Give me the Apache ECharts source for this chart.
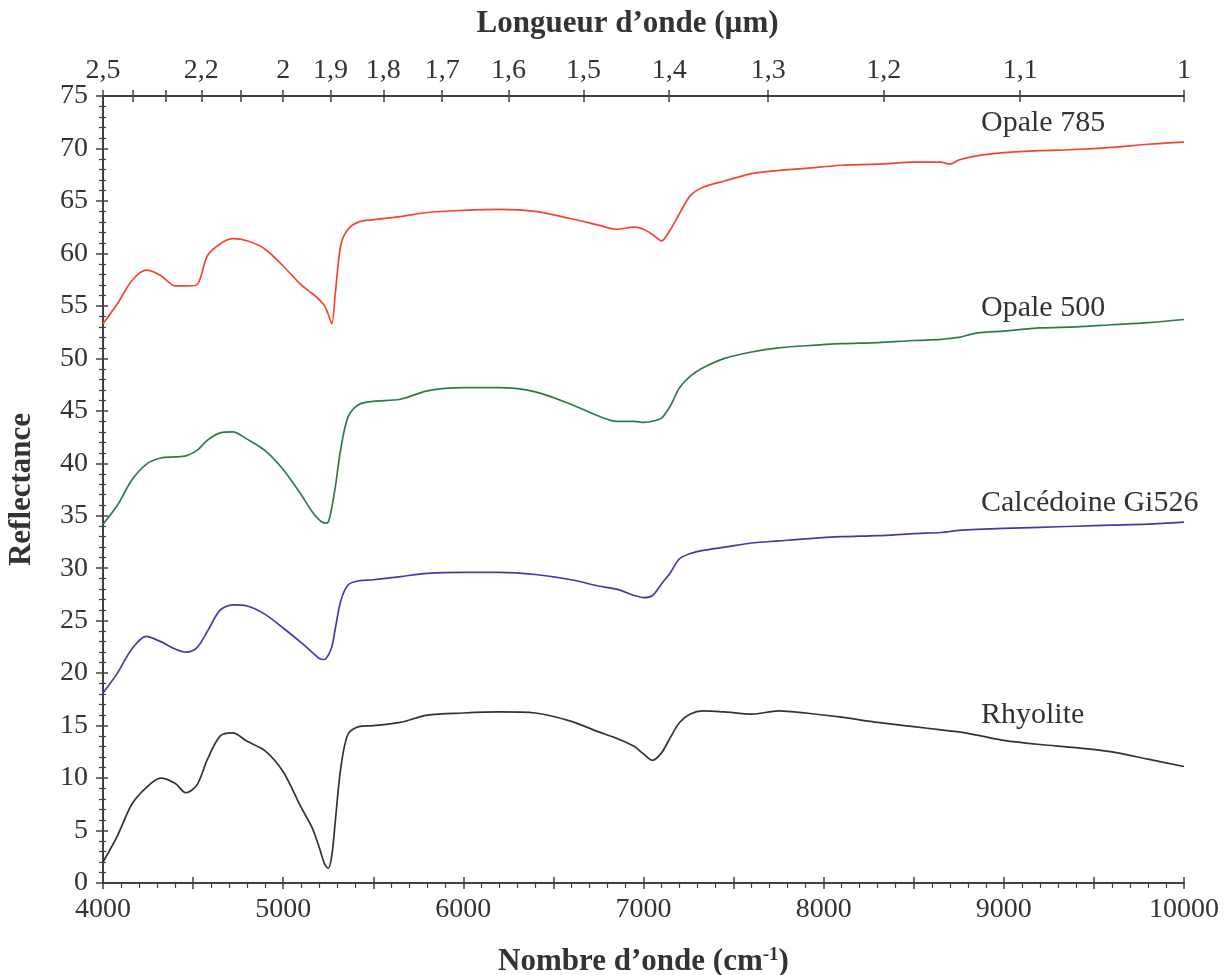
<!DOCTYPE html>
<html>
<head>
<meta charset="utf-8">
<title>Reflectance</title>
<script src="https://cdn.jsdelivr.net/npm/echarts@6.0.0/dist/echarts.min.js"></script>
<style>
  html, body { margin: 0; padding: 0; background: #fff; }
  #main { width: 1227px; height: 975px; }
</style>
</head>
<body>
<div id="main"></div>
<script>
// nombre d'onde (cm-1), grille commune aux 4 spectres
var wavenumbers = [4000, 4080, 4160, 4240, 4320, 4400, 4460, 4520, 4580, 4650, 4720, 4800, 4900, 5000, 5100, 5160, 5200, 5230, 5250, 5270, 5290, 5320, 5360, 5420, 5500, 5650, 5800, 6000, 6200, 6400, 6600, 6750, 6850, 6950, 7000, 7050, 7100, 7150, 7200, 7260, 7330, 7450, 7600, 7750, 7900, 8100, 8300, 8500, 8650, 8700, 8750, 8850, 9000, 9200, 9400, 9600, 9800, 10000];

var opale785 = [53.3, 55.2, 57.4, 58.4, 57.9, 56.9, 56.9, 57.0, 59.8, 60.9, 61.4, 61.2, 60.4, 58.8, 57.0, 56.2, 55.6, 55.0, 54.2, 53.3, 56.3, 60.8, 62.3, 63.0, 63.2, 63.5, 63.9, 64.1, 64.2, 64.0, 63.3, 62.7, 62.3, 62.5, 62.3, 61.8, 61.2, 62.3, 63.8, 65.5, 66.3, 66.9, 67.6, 67.9, 68.1, 68.4, 68.5, 68.7, 68.7, 68.5, 68.9, 69.3, 69.6, 69.8, 69.9, 70.1, 70.4, 70.6];

var opale500 = [34.2, 36.0, 38.4, 39.9, 40.5, 40.6, 40.7, 41.2, 42.2, 42.9, 43.0, 42.3, 41.2, 39.4, 37.0, 35.4, 34.6, 34.3, 34.4, 35.8, 37.8, 41.4, 44.4, 45.6, 45.9, 46.1, 46.9, 47.2, 47.2, 46.8, 45.6, 44.5, 44.0, 44.0, 43.9, 44.0, 44.3, 45.5, 47.2, 48.3, 49.1, 50.0, 50.6, 51.0, 51.2, 51.4, 51.5, 51.7, 51.8, 51.9, 52.0, 52.4, 52.6, 52.9, 53.0, 53.2, 53.4, 53.7];

var calcedoine = [18.1, 20.0, 22.3, 23.5, 23.0, 22.3, 22.0, 22.4, 24.0, 26.0, 26.5, 26.4, 25.6, 24.3, 22.9, 22.0, 21.4, 21.3, 21.7, 22.5, 24.3, 26.9, 28.4, 28.8, 28.9, 29.2, 29.5, 29.6, 29.6, 29.4, 28.9, 28.3, 28.0, 27.4, 27.2, 27.4, 28.5, 29.6, 30.9, 31.4, 31.7, 32.0, 32.4, 32.6, 32.8, 33.0, 33.1, 33.3, 33.4, 33.5, 33.6, 33.7, 33.8, 33.9, 34.0, 34.1, 34.2, 34.4];

var rhyolite = [2.0, 4.5, 7.5, 9.1, 10.0, 9.5, 8.6, 9.3, 11.8, 14.0, 14.3, 13.5, 12.6, 10.6, 7.2, 5.3, 3.4, 1.8, 1.4, 2.6, 6.0, 11.0, 14.2, 14.9, 15.0, 15.3, 16.0, 16.2, 16.3, 16.2, 15.4, 14.4, 13.8, 13.0, 12.3, 11.7, 12.4, 13.9, 15.3, 16.1, 16.4, 16.3, 16.1, 16.4, 16.2, 15.8, 15.3, 14.9, 14.6, 14.5, 14.4, 14.1, 13.6, 13.2, 12.9, 12.5, 11.8, 11.1];

// longueur d'onde (µm) : graduations et étiquettes de l'axe du haut
var wavelengthTicks = [2.5, 2.4, 2.3, 2.2, 2.1, 2, 1.9, 1.8, 1.7, 1.6, 1.5, 1.4, 1.3, 1.2, 1.1, 1];
var wavelengthLabels = [2.5, 2.2, 2, 1.9, 1.8, 1.7, 1.6, 1.5, 1.4, 1.3, 1.2, 1.1, 1];

var seriesNames = ['Opale 785', 'Opale 500', 'Calcédoine Gi526', 'Rhyolite'];
var seriesColors = ['#f5452f', '#2f7a47', '#3d3da6', '#333333'];
// ordonnée (px) du milieu de chaque étiquette de courbe
var labelTops = [123, 308, 503, 715];

var FONT = '"Liberation Serif", "Times New Roman", serif';
var AXIS_COLOR = '#404040';
var TEXT_COLOR = '#333333';

function toWn(um) { return 10000 / um; }
function pairs(values) {
    return wavenumbers.map(function (w, i) { return [w, values[i]]; });
}

var myChart = echarts.init(document.getElementById('main'));

var lineStyleAxis = { color: AXIS_COLOR, width: 2 };
var tickStyle = { color: AXIS_COLOR, width: 1.5 };
var minorStyle = { color: AXIS_COLOR, width: 1.2 };

var option = {
    backgroundColor: '#ffffff',
    animation: false,
    grid: { left: 103, right: 43, top: 96, bottom: 92, containLabel: false, outerBoundsMode: 'none' },
    xAxis: [
        {
            // nombre d'onde, en bas
            type: 'value', position: 'bottom', min: 4000, max: 10000, interval: 500,
            name: 'Nombre d\u2019onde (cm{sup|-1})',
            nameLocation: 'middle', nameGap: 63,
            nameTextStyle: {
                fontFamily: FONT, fontSize: 31, fontWeight: 'bold', color: TEXT_COLOR,
                rich: { sup: { fontFamily: FONT, fontSize: 19, fontWeight: 'bold', color: TEXT_COLOR, verticalAlign: 'top', padding: [0, 0, 12, 0] } }
            },
            axisLine: { onZero: false, lineStyle: lineStyleAxis },
            axisTick: { length: 6, lineStyle: tickStyle },
            minorTick: { show: true, splitNumber: 5, length: 5, lineStyle: minorStyle },
            axisLabel: {
                margin: 13, fontFamily: FONT, fontSize: 28, color: TEXT_COLOR,
                formatter: function (v) { return v % 1000 === 0 ? String(v) : ''; }
            },
            splitLine: { show: false }
        },
        {
            // longueur d'onde, en haut
            type: 'value', position: 'top', min: 4000, max: 10000,
            name: 'Longueur d\u2019onde (\u00b5m)',
            nameLocation: 'middle', nameGap: 57,
            nameTextStyle: { fontFamily: FONT, fontSize: 31, fontWeight: 'bold', color: TEXT_COLOR, padding: [0, 32, 0, 0] },
            axisLine: { onZero: false, lineStyle: lineStyleAxis },
            axisTick: { length: 6, customValues: wavelengthTicks.map(toWn), lineStyle: tickStyle },
            axisLabel: {
                margin: 11, fontFamily: FONT, fontSize: 28, color: TEXT_COLOR,
                customValues: wavelengthLabels.map(toWn),
                formatter: function (v) { return String(Math.round(10000 / v * 10) / 10).replace('.', ','); }
            },
            splitLine: { show: false }
        },
        {
            // graduations vers l'intérieur (axe du haut)
            type: 'value', position: 'top', min: 4000, max: 10000,
            axisLine: { show: false, onZero: false },
            axisTick: { inside: true, length: 6, customValues: wavelengthTicks.map(toWn), lineStyle: tickStyle },
            axisLabel: { show: false },
            splitLine: { show: false }
        },
        {
            // graduations majeures vers l'intérieur (axe du bas)
            type: 'value', position: 'bottom', min: 4000, max: 10000, interval: 500,
            axisLine: { show: false, onZero: false },
            axisTick: { inside: true, length: 6, lineStyle: tickStyle },
            axisLabel: { show: false },
            splitLine: { show: false }
        }
    ],
    yAxis: [
        {
            type: 'value', min: 0, max: 75, interval: 5,
            name: 'Reflectance', nameLocation: 'middle', nameGap: 66, nameRotate: 90,
            nameTextStyle: { fontFamily: FONT, fontSize: 31, fontWeight: 'bold', color: TEXT_COLOR },
            axisLine: { show: true, onZero: false, lineStyle: lineStyleAxis },
            axisTick: { show: true, length: 7, lineStyle: tickStyle },
            minorTick: { show: true, splitNumber: 5, length: 4, lineStyle: minorStyle },
            axisLabel: { margin: 15, fontFamily: FONT, fontSize: 28, color: TEXT_COLOR },
            splitLine: { show: false }
        },
        {
            type: 'value', position: 'left', min: 0, max: 75, interval: 5,
            axisLine: { show: false, onZero: false },
            axisTick: { show: true, inside: true, length: 5, lineStyle: tickStyle },
            minorTick: { show: true, splitNumber: 5, length: 3, lineStyle: minorStyle },
            axisLabel: { show: false },
            splitLine: { show: false }
        }
    ],
    series: [opale785, opale500, calcedoine, rhyolite].map(function (vals, i) {
        return {
            name: seriesNames[i],
            type: 'line',
            xAxisIndex: 0, yAxisIndex: 0,
            data: pairs(vals),
            smooth: 0.3,
            showSymbol: false,
            lineStyle: { color: seriesColors[i], width: 1.7 },
            itemStyle: { color: seriesColors[i] }
        };
    }),
    graphic: seriesNames.map(function (name, i) {
        return {
            type: 'text', x: 981, y: labelTops[i],
            style: { text: name, font: '30px ' + FONT, fill: TEXT_COLOR, verticalAlign: 'middle' }
        };
    })
};

myChart.setOption(option);
</script>
</body>
</html>
